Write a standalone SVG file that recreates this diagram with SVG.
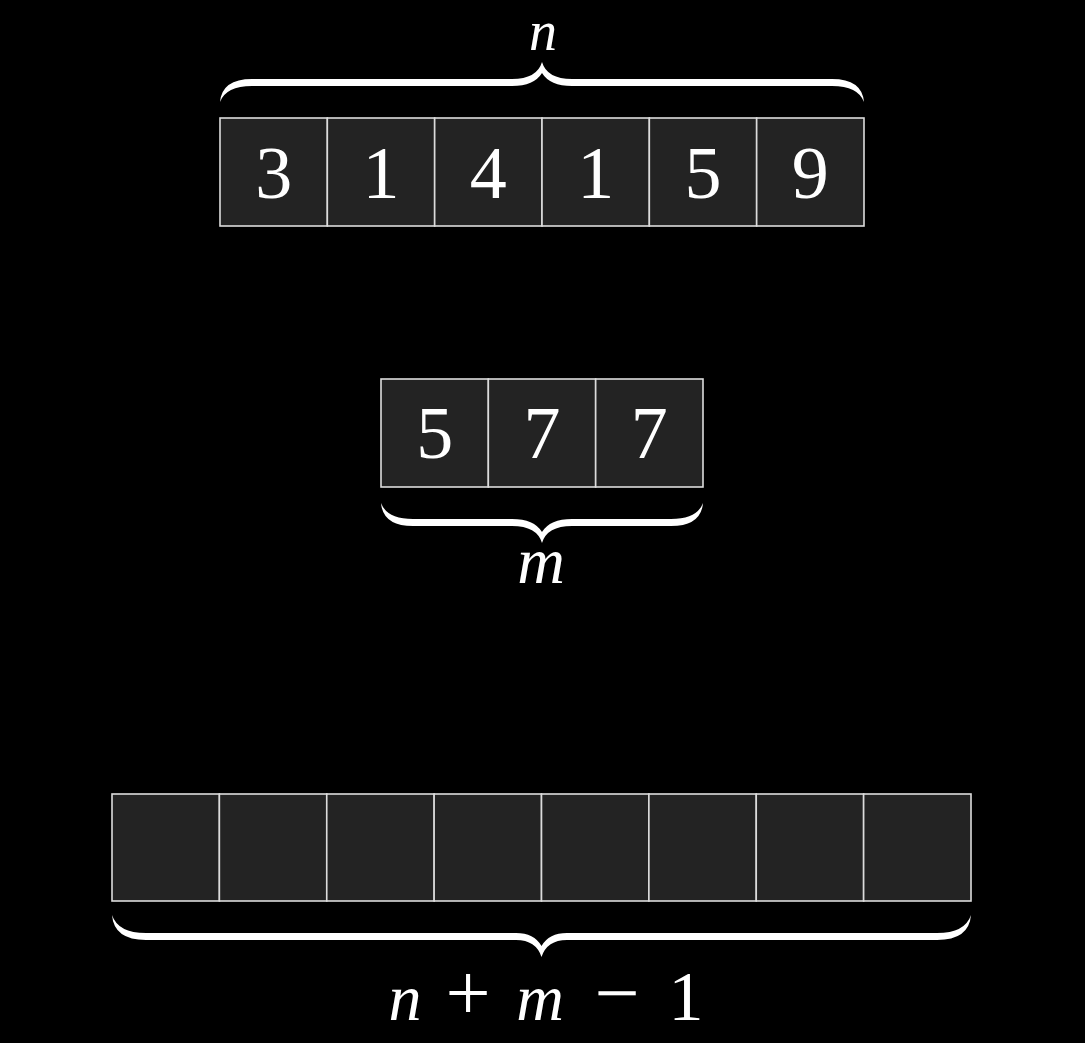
<svg xmlns="http://www.w3.org/2000/svg" width="1085" height="1043" viewBox="0 0 1085 1043">
<style>
.cell{fill:#232323;stroke:#dcdcdc;stroke-width:1.6}
.dig{font-family:"Liberation Serif","DejaVu Serif",serif;font-size:74px;fill:#fff;text-anchor:middle}
.lab{font-family:"Liberation Serif","DejaVu Serif",serif;font-style:italic;font-size:66px;fill:#fff;text-anchor:middle}
.op{font-family:"Liberation Serif","DejaVu Serif",serif;font-size:80px;fill:#fff;text-anchor:middle;font-style:normal}
.one{font-family:"Liberation Serif","DejaVu Serif",serif;font-size:70px;fill:#fff;text-anchor:middle;font-style:normal}
.brace{fill:#fff}
</style>
<rect width="1085" height="1043" fill="#000"/>
<g id="top-array">
<rect class="cell" x="220" y="118" width="107.33" height="108"/>
<rect class="cell" x="327.33" y="118" width="107.33" height="108"/>
<rect class="cell" x="434.67" y="118" width="107.33" height="108"/>
<rect class="cell" x="542" y="118" width="107.33" height="108"/>
<rect class="cell" x="649.33" y="118" width="107.33" height="108"/>
<rect class="cell" x="756.67" y="118" width="107.33" height="108"/>
<text class="dig" x="273.7" y="198">3</text>
<text class="dig" x="381" y="198">1</text>
<text class="dig" x="488.3" y="198">4</text>
<text class="dig" x="595.7" y="198">1</text>
<text class="dig" x="703" y="198">5</text>
<text class="dig" x="810.3" y="198">9</text>
</g>
<g id="top-brace">
<path class="brace" transform="translate(220,102)" d="M0,0 Q2,-23 32,-23 L292,-23 Q317,-23 322,-40 Q327,-23 352,-23 L612,-23 Q642,-23 644,0 Q638,-16 612,-16 L352,-16 Q330,-16 322,-29 Q314,-16 292,-16 L32,-16 Q6,-16 0,0 Z"/>
<text class="lab" x="543" y="50" style="font-size:56px">n</text>
</g>
<g id="middle-array">
<rect class="cell" x="381" y="379" width="107.33" height="108"/>
<rect class="cell" x="488.33" y="379" width="107.33" height="108"/>
<rect class="cell" x="595.67" y="379" width="107.33" height="108"/>
<text class="dig" x="434.7" y="458">5</text>
<text class="dig" x="542" y="458">7</text>
<text class="dig" x="649.3" y="458">7</text>
</g>
<g id="middle-brace">
<path class="brace" transform="translate(381,503) scale(1,-1)" d="M0,0 Q2,-23 32,-23 L131,-23 Q156,-23 161,-40 Q166,-23 191,-23 L290,-23 Q320,-23 322,0 Q316,-16 290,-16 L191,-16 Q169,-16 161,-29 Q153,-16 131,-16 L32,-16 Q6,-16 0,0 Z"/>
<text class="lab" x="541" y="583">m</text>
</g>
<g id="result-array">
<rect class="cell" x="112" y="794" width="107.38" height="107"/>
<rect class="cell" x="219.38" y="794" width="107.38" height="107"/>
<rect class="cell" x="326.75" y="794" width="107.38" height="107"/>
<rect class="cell" x="434.13" y="794" width="107.38" height="107"/>
<rect class="cell" x="541.5" y="794" width="107.38" height="107"/>
<rect class="cell" x="648.88" y="794" width="107.38" height="107"/>
<rect class="cell" x="756.25" y="794" width="107.38" height="107"/>
<rect class="cell" x="863.63" y="794" width="107.38" height="107"/>
</g>
<g id="result-brace">
<path class="brace" transform="translate(112,915) scale(1,-1)" d="M0,0 Q2,-25 34,-25 L404,-25 Q424,-25 429.5,-42 Q435,-25 455,-25 L825,-25 Q857,-25 859,0 Q853,-18 825,-18 L455,-18 Q437,-18 429.5,-31 Q422,-18 404,-18 L34,-18 Q6,-18 0,0 Z"/>
<text class="lab" y="1020"><tspan x="405">n</tspan><tspan class="op" x="468">+</tspan><tspan x="540">m</tspan><tspan class="op" x="617">−</tspan><tspan class="one" x="686">1</tspan></text>
</g>
</svg>
